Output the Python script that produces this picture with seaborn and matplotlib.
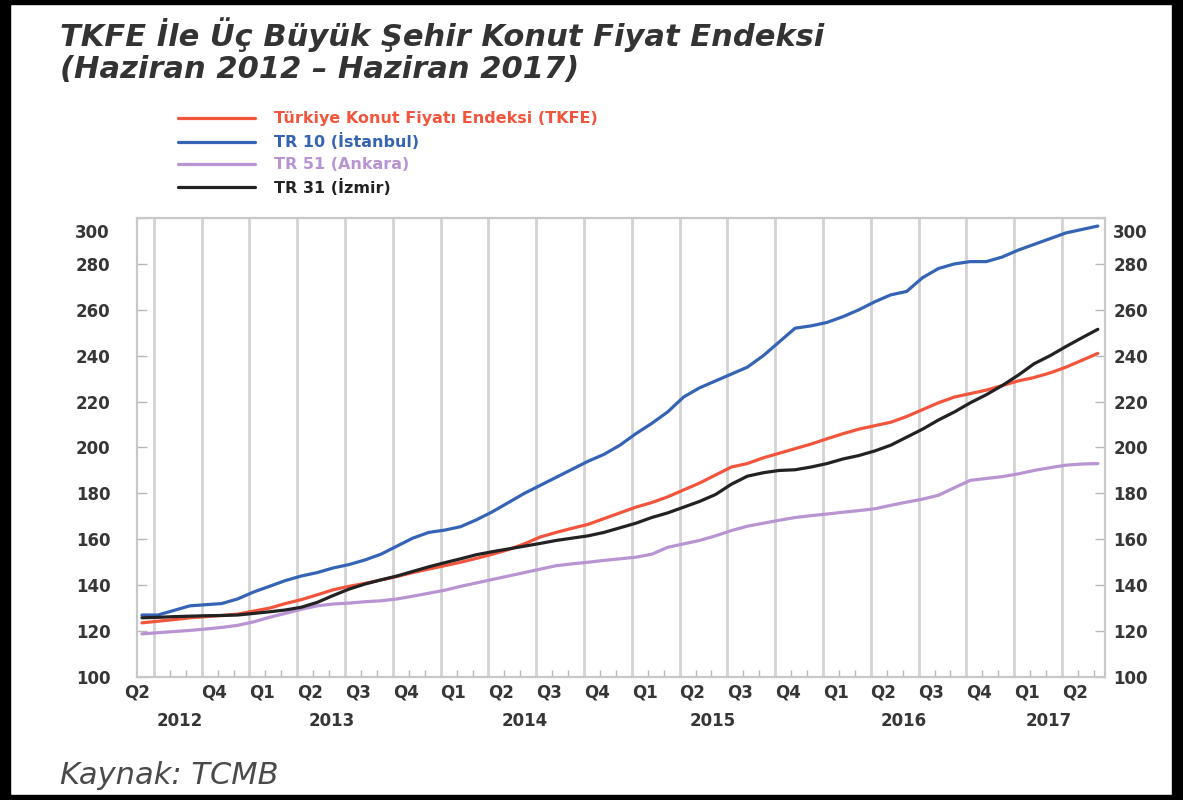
import numpy as np
import pandas as pd
import matplotlib
matplotlib.use("Agg")
import matplotlib.pyplot as plt
import matplotlib.transforms as mtransforms
from matplotlib.patches import Rectangle
from matplotlib.lines import Line2D
import seaborn as sns

# ---------------- data (monthly, June 2012 - June 2017) ----------------
months = pd.date_range("2012-06-01", "2017-06-01", freq="MS")

tkfe = [123.6, 124.3, 125.0, 125.8, 126.3, 126.8, 127.4, 128.7, 130.0, 132.0,
        133.7, 135.8, 138.0, 139.5, 140.8, 142.3, 143.8, 145.5, 147.0, 148.5,
        150.0, 151.7, 153.5, 155.5, 158.0, 161.0, 163.0, 164.8, 166.5, 169.0,
        171.5, 174.0, 176.0, 178.5, 181.5, 184.5, 188.0, 191.5, 193.0, 195.5,
        197.5, 199.5, 201.5, 203.8, 206.0, 208.0, 209.5, 211.0, 213.5, 216.5,
        219.5, 222.0, 223.5, 225.0, 227.0, 229.0, 230.5, 232.5, 235.0, 238.0,
        241.0]

istanbul = [127.0, 127.0, 129.0, 131.0, 131.5, 132.0, 134.0, 137.0, 139.5, 142.0,
            144.0, 145.5, 147.5, 149.0, 151.0, 153.5, 157.0, 160.5, 163.0, 164.0,
            165.5, 168.5, 172.0, 176.0, 180.0, 183.5, 187.0, 190.5, 194.0, 197.0,
            201.0, 206.0, 210.5, 215.5, 222.0, 226.0, 229.0, 232.0, 235.0, 240.0,
            246.0, 252.0, 253.0, 254.5, 257.0, 260.0, 263.5, 266.5, 268.0, 274.0,
            278.0, 280.0, 281.0, 281.0, 283.0, 286.0, 288.5, 291.0, 293.5, 295.0,
            296.5]

ankara = [118.8, 119.3, 119.8, 120.3, 120.9, 121.6, 122.5, 124.0, 126.0, 127.7,
          129.5, 131.0, 131.8, 132.2, 132.8, 133.2, 134.0, 135.2, 136.5, 137.8,
          139.5, 141.0, 142.5, 144.0, 145.5, 147.0, 148.5, 149.3, 150.0, 150.8,
          151.5, 152.2, 153.5, 156.5, 158.0, 159.5, 161.5, 163.8, 165.7, 167.0,
          168.3, 169.5, 170.3, 171.0, 171.8, 172.5, 173.3, 174.8, 176.2, 177.5,
          179.2, 182.5, 185.7, 186.5, 187.3, 188.5, 190.0, 191.2, 192.3, 192.8,
          193.0]

izmir = [125.8, 126.0, 126.3, 126.5, 126.7, 126.8, 127.0, 127.7, 128.4, 129.2,
         130.4, 132.5, 135.5, 138.3, 140.5, 142.3, 144.0, 146.0, 148.0, 149.8,
         151.5, 153.3, 154.6, 155.8, 157.0, 158.2, 159.5, 160.5, 161.5, 163.0,
         165.0, 167.0, 169.5, 171.5, 174.0, 176.5, 179.5, 184.0, 187.5, 189.0,
         190.0, 190.3, 191.5, 193.0, 195.0, 196.5, 198.5, 201.0, 204.5, 208.0,
         212.0, 215.5, 219.5, 223.0, 227.0, 231.5, 236.5, 240.0, 244.0, 247.8,
         251.5]

series_names = ["Türkiye Konut Fiyatı Endeksi (TKFE)", "TR 10 (İstanbul)",
                "TR 51 (Ankara)", "TR 31 (İzmir)"]
series_values = [tkfe, istanbul, ankara, izmir]
series_colors = ["#f2553c", "#3564b4", "#b994d2", "#222222"]

quarter_labels = ["Q2", "Q4",
                  "Q1", "Q2", "Q3", "Q4",
                  "Q1", "Q2", "Q3", "Q4",
                  "Q1", "Q2", "Q3", "Q4",
                  "Q1", "Q2", "Q3", "Q4",
                  "Q1", "Q2"]
year_labels = ["2012", "2013", "2014", "2015", "2016", "2017"]
y_ticks = [100, 120, 140, 160, 180, 200, 220, 240, 260, 280, 300]

# ---------------- build frame ----------------
rows = []
for name, vals in zip(series_names, series_values):
    for i, v in enumerate(vals):
        rows.append({"idx": i, "month": months[i], "value": v, "series": name})
df = pd.DataFrame(rows)

sns.set_theme(style="white")
plt.rcParams["font.family"] = ["DejaVu Sans"]

TXT = "#363636"
TICK_FS = 12
W, H = 1183, 800
XMIN, XMAX = -0.31, 60.45
fig = plt.figure(figsize=(W / 100, H / 100), dpi=100)
ax = fig.add_axes([137 / W, 1 - 677 / H, (1105 - 137) / W, (677 - 218) / H])

# vertical grid lines (quarter boundaries)
grid_pos = np.arange(0.75, 60, 3)
for g in grid_pos:
    ax.axvline(g, color="#d3d3d3", lw=2.0, zorder=0)

sns.lineplot(data=df, x="idx", y="value", hue="series", hue_order=series_names,
             palette=series_colors, linewidth=2.3, legend=False, ax=ax, zorder=3)

ax.set_xlabel("")
ax.set_ylabel("")

# x ticks: quarter labels
q_pos = [XMIN] + [3 * k + 1.55 for k in range(1, len(quarter_labels))]
ax.set_xticks(q_pos)
ax.set_xticklabels(quarter_labels)
ax.set_xticks(np.array([p for p in np.arange(0.75, 60.5, 1.0) if (p - 0.75) % 3 != 0]),
              minor=True)
ax.tick_params(axis="x", which="major", length=0, pad=5, labelsize=TICK_FS,
               labelcolor=TXT)
ax.tick_params(axis="x", which="minor", direction="in", length=5, width=1,
               color="#b8b8b8", bottom=True)
for lbl in ax.get_xticklabels():
    lbl.set_fontweight("bold")

# y ticks: left axis
ylabels = ["" if t == 300 else str(t) for t in y_ticks]
ax.set_yticks(y_ticks)
ax.set_yticklabels(ylabels)
ax.tick_params(axis="y", which="major", direction="in", length=7, width=1,
               color="#b8b8b8", left=True, right=False, labelsize=TICK_FS,
               labelcolor=TXT, pad=19)
for lbl in ax.get_yticklabels():
    lbl.set_fontweight("bold")

ax.set_xlim(XMIN, XMAX)
ax.set_ylim(100, 300)

# y ticks: right axis (twin sharing the same scale)
ax2 = ax.twinx()
ax2.set_yticks(y_ticks)
ax2.set_yticklabels(ylabels)
ax2.set_ylim(100, 300)
ax2.tick_params(axis="y", which="major", direction="in", length=7, width=1,
                color="#b8b8b8", right=True, labelsize=TICK_FS, labelcolor=TXT, pad=6)
for lbl in ax2.get_yticklabels():
    lbl.set_fontweight("bold")
ax2.grid(False)
ax.set_xlim(XMIN, XMAX)

# the top "300" labels sit a little below the tick
fig.text(110 / W, 1 - 233 / H, "300", ha="right", va="center", fontsize=TICK_FS,
         fontweight="bold", color=TXT)
fig.text(1113 / W, 1 - 233 / H, "300", ha="left", va="center", fontsize=TICK_FS,
         fontweight="bold", color=TXT)

for a in (ax, ax2):
    for sp in a.spines.values():
        sp.set_color("#c8c8c8")
        sp.set_linewidth(1.5)

# year labels
year_pos = [2.4, 11.9, 24.0, 35.8, 47.8, 56.9]
trans = mtransforms.blended_transform_factory(ax.transData, fig.transFigure)
for yp, yl in zip(year_pos, year_labels):
    fig.text(yp, 1 - 721 / H, yl, transform=trans, ha="center", va="center",
             fontsize=TICK_FS, fontweight="bold", color=TXT)

# legend
handles = [Line2D([0], [0], color=c, lw=2.3) for c in series_colors]
leg = fig.legend(handles, series_names, loc="upper left",
                 bbox_to_anchor=(172 / W, 1 - 105 / H), frameon=False,
                 fontsize=11.5, handlelength=4.8, handletextpad=1.2,
                 labelspacing=0.43, borderaxespad=0)
for txt, c in zip(leg.get_texts(), series_colors):
    txt.set_color(c)
    txt.set_fontweight("bold")

# title and source
fig.text(60 / W, 1 - 35 / H, "TKFE İle Üç Büyük Şehir Konut Fiyat Endeksi",
         fontsize=22, fontweight="bold", style="italic", color="#333333",
         va="center", ha="left")
fig.text(60 / W, 1 - 70 / H, "(Haziran 2012 – Haziran 2017)",
         fontsize=22, fontweight="bold", style="italic", color="#333333",
         va="center", ha="left")
fig.text(60 / W, 1 - 776 / H, "Kaynak: TCMB", fontsize=22, style="italic",
         color="#4a4a4a", va="center", ha="left")

# black outer frame
for (x0, y0, w, h) in [(0, 0, 10, H), (W - 11, 0, 11, H), (0, 0, W, 4), (0, H - 5, W, 5)]:
    fig.add_artist(Rectangle((x0 / W, 1 - (y0 + h) / H), w / W, h / H,
                             transform=fig.transFigure, color="black", zorder=10))

fig.savefig("out.png", dpi=100)
